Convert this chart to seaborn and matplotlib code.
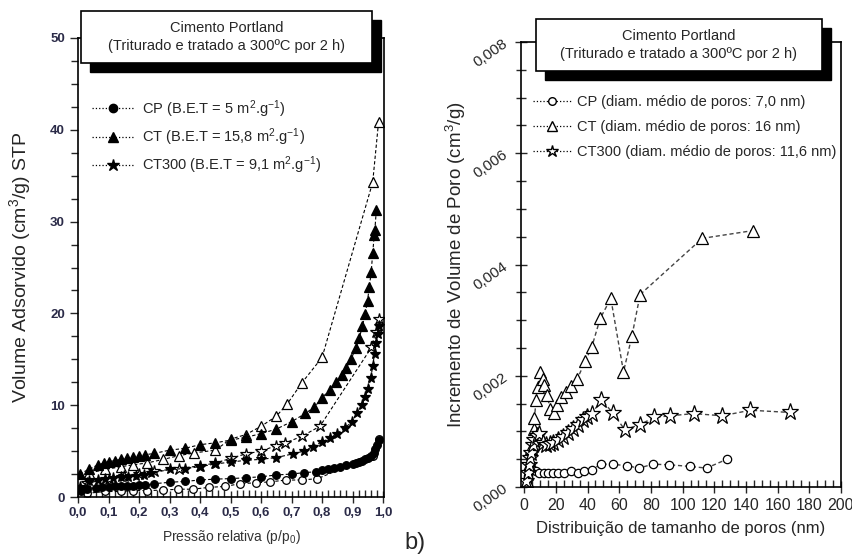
import numpy as np
import matplotlib
matplotlib.use("Agg")
import matplotlib.pyplot as plt
import seaborn as sns
from matplotlib.lines import Line2D
from matplotlib.patches import Rectangle
from matplotlib.ticker import MultipleLocator, FuncFormatter

# --- left panel: N2 isotherms (adsorption = filled, desorption = open) ---
cp_ads_x = [0.01, 0.03, 0.06, 0.08, 0.10, 0.12, 0.14, 0.16, 0.18, 0.20, 0.22, 0.25, 0.30, 0.35,
            0.40, 0.45, 0.50, 0.55, 0.60, 0.65, 0.70, 0.74, 0.78, 0.80, 0.82, 0.84, 0.86, 0.88,
            0.90, 0.91, 0.92, 0.93, 0.94, 0.95, 0.96, 0.97, 0.975, 0.98, 0.985]
cp_ads_y = [0.7, 0.9, 1.0, 1.05, 1.1, 1.15, 1.2, 1.2, 1.25, 1.3, 1.3, 1.45, 1.6, 1.7,
            1.85, 1.95, 2.0, 2.1, 2.2, 2.4, 2.5, 2.65, 2.75, 2.95, 3.05, 3.15, 3.3, 3.45,
            3.6, 3.7, 3.8, 3.95, 4.1, 4.3, 4.5, 4.8, 5.2, 5.7, 6.2]
cp_des_x = [0.985, 0.968, 0.785, 0.733, 0.682, 0.63, 0.584, 0.531, 0.482, 0.43, 0.376,
            0.329, 0.278, 0.226, 0.18, 0.14, 0.09, 0.03]
cp_des_y = [6.3, 4.5, 2.0, 1.85, 1.85, 1.65, 1.55, 1.45, 1.15, 1.05, 0.85,
            0.85, 0.75, 0.7, 0.7, 0.6, 0.6, 0.4]

ct_ads_x = [0.005, 0.035, 0.065, 0.085, 0.10, 0.12, 0.14, 0.16, 0.18, 0.20, 0.22, 0.25, 0.30,
            0.35, 0.40, 0.45, 0.50, 0.55, 0.60, 0.65, 0.70, 0.745, 0.775, 0.80, 0.825, 0.846,
            0.865, 0.88, 0.895, 0.91, 0.922, 0.932, 0.941, 0.949, 0.955, 0.961, 0.966,
            0.971, 0.973, 0.978]
ct_ads_y = [2.5, 3.0, 3.5, 3.7, 3.85, 3.95, 4.1, 4.2, 4.4, 4.5, 4.6, 4.75, 5.1,
            5.3, 5.7, 5.9, 6.2, 6.5, 6.9, 7.4, 8.2, 9.1, 9.8, 10.8, 11.7, 12.5,
            13.3, 14.1, 15.0, 16.2, 17.3, 18.6, 19.9, 21.4, 22.9, 24.5, 26.6,
            28.5, 29.1, 31.3]
ct_des_x = [0.985, 0.966, 0.80, 0.733, 0.685, 0.65, 0.60, 0.55, 0.50, 0.45, 0.38, 0.33,
            0.28, 0.225, 0.18, 0.14, 0.09, 0.035]
ct_des_y = [40.8, 34.3, 15.2, 12.4, 10.1, 8.8, 7.7, 6.8, 6.3, 5.1, 4.8, 4.5,
            4.1, 3.7, 3.5, 3.3, 3.0, 2.6]

ct300_ads_x = [0.005, 0.035, 0.065, 0.088, 0.115, 0.14, 0.165, 0.19, 0.215, 0.24, 0.30, 0.35,
               0.40, 0.45, 0.50, 0.55, 0.60, 0.65, 0.705, 0.74, 0.77, 0.80, 0.826, 0.848,
               0.875, 0.897, 0.914, 0.93, 0.941, 0.952, 0.96, 0.966, 0.972, 0.977, 0.982, 0.985]
ct300_ads_y = [1.1, 1.7, 1.85, 2.0, 2.05, 2.15, 2.2, 2.3, 2.4, 2.6, 3.0, 3.1,
               3.3, 3.6, 3.8, 4.0, 4.1, 4.3, 4.7, 5.0, 5.5, 6.0, 6.4, 6.9,
               7.5, 8.2, 9.1, 10.0, 10.9, 11.8, 13.0, 14.3, 15.6, 16.8, 17.8, 18.6]
ct300_des_x = [0.986, 0.976, 0.962, 0.793, 0.733, 0.68, 0.65, 0.60, 0.55, 0.50, 0.45, 0.40,
               0.33, 0.25, 0.20, 0.15, 0.10, 0.03]
ct300_des_y = [19.4, 18.0, 16.3, 7.7, 6.6, 5.9, 5.6, 5.0, 4.7, 4.2, 3.7, 3.4,
               3.1, 2.8, 2.5, 2.3, 2.0, 1.5]

# --- right panel: pore size distribution ---
cp_pore_x = [1.5, 2.5, 3.5, 4.5, 5.5, 7.5, 9.6, 12.4, 14.9, 18.0, 21.2, 25.4, 29.6, 33.8,
             37.9, 42.8, 48.4, 55.8, 65.2, 72.5, 81.3, 91.4, 104.6, 115.1, 128.1]
cp_pore_y = [0.0001, 0.0002, 0.0003, 0.00035, 0.0003, 0.00028, 0.00026, 0.00026, 0.00025,
             0.00025, 0.00026, 0.00026, 0.00029, 0.00026, 0.00029, 0.00031, 0.00041,
             0.00041, 0.00038, 0.00034, 0.00041, 0.00040, 0.00037, 0.00034, 0.00050]
ct_pore_x = [1.5, 3.0, 4.5, 6.0, 6.5, 7.5, 8.6, 10.3, 11.7, 12.8, 14.7, 16.2, 18.8, 21.0,
             23.5, 26.6, 29.8, 33.5, 38.5, 42.6, 48.0, 54.7, 62.7, 68.0, 73.2, 112.4, 144.5]
ct_pore_y = [0.0001, 0.0004, 0.0007, 0.00105, 0.00124, 0.00156, 0.00180, 0.00207, 0.00195,
             0.00184, 0.00165, 0.00141, 0.00133, 0.00148, 0.00161, 0.00171, 0.00181,
             0.00194, 0.00226, 0.00251, 0.00303, 0.00339, 0.00207, 0.00271, 0.00346,
             0.00447, 0.00461]
ct300_pore_x = [1.3, 2.2, 3.0, 3.8, 4.6, 5.5, 6.5, 8.0, 9.6, 12.0, 14.0, 16.0, 18.5, 21.2,
                24.3, 27.5, 30.6, 33.8, 36.9, 39.4, 42.8, 48.8, 56.0, 63.5, 72.9, 82.0,
                92.0, 107.2, 125.0, 142.8, 167.9]
ct300_pore_y = [0.0001, 0.00025, 0.0004, 0.00052, 0.00062, 0.00075, 0.00085, 0.00092,
                0.00095, 0.00080, 0.00076, 0.00078, 0.00080, 0.00085, 0.00089, 0.00097,
                0.00104, 0.00111, 0.00120, 0.00126, 0.00132, 0.00157, 0.00133, 0.00103,
                0.00112, 0.00125, 0.00128, 0.00132, 0.00128, 0.00138, 0.00134]

box_title = "Cimento Portland\n(Triturado e tratado a 300ºC por 2 h)"
left_labels = ["CP (B.E.T = 5 m$^2$.g$^{-1}$)",
               "CT (B.E.T = 15,8 m$^2$.g$^{-1}$)",
               "CT300 (B.E.T = 9,1 m$^2$.g$^{-1}$)"]
right_labels = ["CP (diam. médio de poros: 7,0 nm)",
                "CT (diam. médio de poros: 16 nm)",
                "CT300 (diam. médio de poros: 11,6 nm)"]

sns.set_style("ticks")
plt.rcParams["font.family"] = ["Liberation Sans", "DejaVu Sans"]
plt.rcParams["mathtext.fontset"] = "custom"
plt.rcParams["mathtext.rm"] = "Liberation Sans"
plt.rcParams["mathtext.it"] = "Liberation Sans:italic"

W, H = 853, 556
fig = plt.figure(figsize=(W / 100, H / 100), dpi=100)

def fx(px):
    return px / W

def fy(py):
    return 1 - py / H

ax1 = fig.add_axes([fx(78), fy(497), fx(384 - 78), (497 - 38) / H])
ax2 = fig.add_axes([fx(521), fy(487), fx(841 - 521), (487 - 42) / H])

dash = (0, (3, 2))
left_series = [
    (cp_des_x, cp_des_y, "o", "white", 5.5),
    (ct_des_x, ct_des_y, "^", "white", 7.5),
    (ct300_des_x, ct300_des_y, "*", "white", 9),
    (cp_ads_x, cp_ads_y, "o", "black", 5.5),
    (ct_ads_x, ct_ads_y, "^", "black", 7),
    (ct300_ads_x, ct300_ads_y, "*", "black", 8),
]
for xs, ys, mk, fc, ms in left_series:
    sns.lineplot(x=xs, y=ys, ax=ax1, sort=False, estimator=None, color="black",
                 linestyle=dash, linewidth=0.8, marker=mk, markersize=ms,
                 markerfacecolor=fc, markeredgecolor="black", markeredgewidth=0.9,
                 legend=False)

right_series = [
    (cp_pore_x, cp_pore_y, "o", 6),
    (ct_pore_x, ct_pore_y, "^", 8.5),
    (ct300_pore_x, ct300_pore_y, "*", 12.5),
]
for xs, ys, mk, ms in right_series:
    sns.lineplot(x=xs, y=ys, ax=ax2, sort=False, estimator=None, color="#444444",
                 linestyle=dash, linewidth=1.0, marker=mk, markersize=ms,
                 markerfacecolor="white", markeredgecolor="black", markeredgewidth=0.9,
                 legend=False)

comma = lambda fmt: FuncFormatter(lambda v, p: (fmt % v).replace(".", ","))
tick_col = "#2b2b48"

ax1.set_xlim(0, 1.003)
ax1.set_ylim(0, 50)
ax1.xaxis.set_major_locator(MultipleLocator(0.1))
ax1.xaxis.set_minor_locator(MultipleLocator(0.02))
ax1.yaxis.set_major_locator(MultipleLocator(10))
ax1.yaxis.set_minor_locator(MultipleLocator(2.5))
ax1.xaxis.set_major_formatter(comma("%.1f"))
ax1.tick_params(axis="x", which="major", direction="inout", length=8, width=1,
                labelsize=9.5, labelcolor=tick_col)
ax1.tick_params(axis="x", which="minor", direction="in", length=5, width=1)
ax1.tick_params(axis="y", which="major", direction="out", length=6, width=1,
                labelsize=9.5, labelcolor=tick_col)
ax1.tick_params(axis="y", which="minor", direction="out", length=5, width=1)
for lab in ax1.get_xticklabels() + ax1.get_yticklabels():
    lab.set_fontweight("bold")
ax1.set_xlabel("Pressão relativa (p/p$_0$)", fontsize=10, color="#333333", labelpad=6)
ax1.set_ylabel("Volume Adsorvido (cm$^3$/g) STP", fontsize=14, labelpad=12)

ax2.set_xlim(-2, 200)
ax2.set_ylim(0, 0.008)
ax2.xaxis.set_major_locator(MultipleLocator(20))
ax2.xaxis.set_minor_locator(MultipleLocator(5))
ax2.yaxis.set_major_locator(MultipleLocator(0.002))
ax2.yaxis.set_minor_locator(MultipleLocator(0.0005))
ax2.yaxis.set_major_formatter(comma("%.3f"))
ax2.tick_params(axis="x", which="major", direction="inout", length=9, width=1,
                labelsize=11.5)
ax2.tick_params(axis="y", which="major", direction="inout", length=9, width=1,
                labelsize=11)
ax2.tick_params(axis="x", which="minor", direction="in", length=5, width=1)
ax2.tick_params(axis="y", which="minor", direction="inout", length=7, width=1)
for lab in ax2.get_yticklabels():
    lab.set_rotation(35)
ax2.set_xlabel("Distribuição de tamanho de poros (nm)", fontsize=12, labelpad=6)
ax2.set_ylabel("Incremento de Volume de Poro (cm$^3$/g)", fontsize=13.5, labelpad=2)

for ax in (ax1, ax2):
    for sp in ax.spines.values():
        sp.set_linewidth(1.2)
        sp.set_color("black")

# legends (dotted handles, filled / open markers)
h1 = [Line2D([], [], color="black", ls=":", lw=0.9, marker=m, ms=s, mfc="black", mec="black")
      for m, s in [("o", 6), ("^", 7), ("*", 9)]]
ax1.legend(h1, left_labels, loc="upper left", frameon=False, fontsize=10.5,
           handlelength=2.9, handletextpad=0.5, labelspacing=0.45, borderpad=0,
           borderaxespad=0, bbox_to_anchor=(fx(92), fy(98)), bbox_transform=fig.transFigure)
h2 = [Line2D([], [], color="black", ls=":", lw=0.9, marker=m, ms=s, mfc="white", mec="black")
      for m, s in [("o", 5.5), ("^", 6.5), ("*", 9)]]
ax2.legend(h2, right_labels, loc="upper left", frameon=False, fontsize=10.5,
           handlelength=2.6, handletextpad=0.4, labelspacing=0.75, borderpad=0,
           borderaxespad=0, bbox_to_anchor=(fx(533), fy(95)), bbox_transform=fig.transFigure)

# title boxes with a black drop shadow
for x0, y0, x1, y1 in [(81, 11, 372, 63), (536, 19, 822, 71)]:
    fig.add_artist(Rectangle((fx(x0 + 9), fy(y1 + 9)), fx(x1 - x0), (y1 - y0) / H,
                             transform=fig.transFigure, fc="black", ec="black", zorder=5))
    fig.add_artist(Rectangle((fx(x0), fy(y1)), fx(x1 - x0), (y1 - y0) / H,
                             transform=fig.transFigure, fc="white", ec="black", lw=1.2, zorder=6))
    fig.text(fx((x0 + x1) / 2), fy((y0 + y1) / 2), box_title, ha="center", va="center",
             fontsize=10.5, linespacing=1.35, zorder=7)

fig.text(fx(415), fy(543), "b)", fontsize=17, ha="center", va="center")

fig.savefig("out.png", dpi=100)
